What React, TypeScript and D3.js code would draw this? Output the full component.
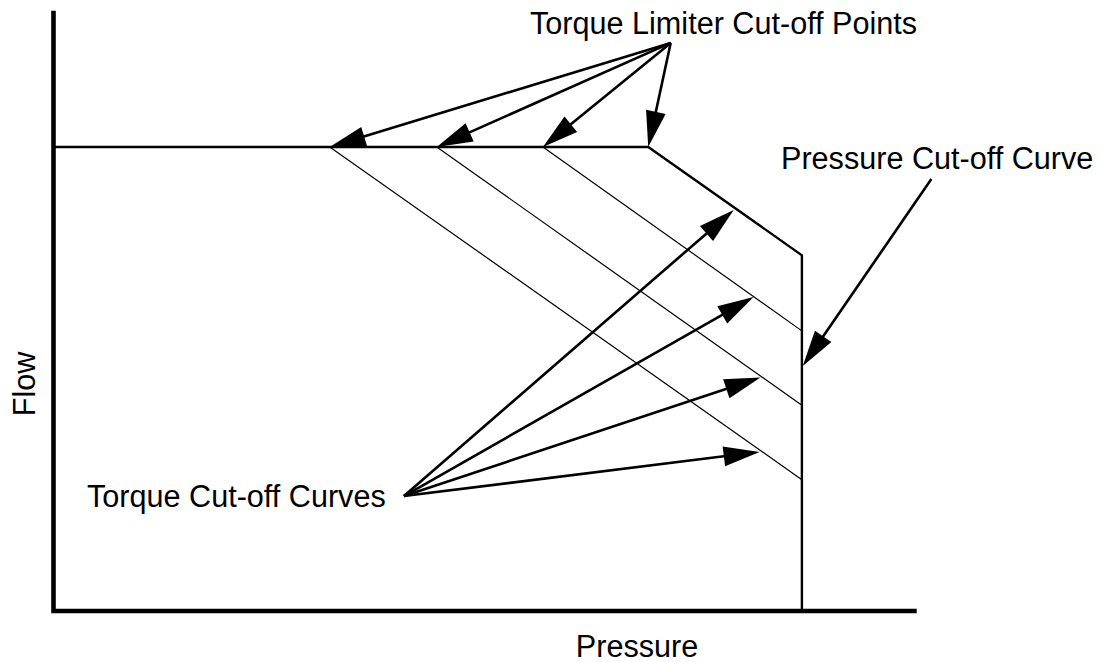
import React from "react";
import * as d3 from "d3";

const W = 1103;
const H = 662;

// Data (arbitrary pressure / flow units, 0..100)
const maxFlow = 76.7;
const pressureCutoff = 86.7;
const limiterPoints = [32.0, 44.4, 56.7, 68.9];
const curveEndFlows = [21.7, 34.0, 46.3, 58.8];

const limiterLabelOrigin: [number, number] = [71.5, 93.9];
const torqueLabelOrigin: [number, number] = [40.6, 19.0];
const torqueArrowTipsX = [78.8, 81.1, 81.9, 81.8];
const torqueArrowTipsY = [66.3, 51.9, 38.6, 26.3];
const pressureArrowFrom: [number, number] = [101.7, 71.4];
const pressureArrowTo: [number, number] = [86.8, 40.5];

const labels = {
  limiter: "Torque Limiter Cut-off Points",
  pressure: "Pressure Cut-off Curve",
  torque: "Torque Cut-off Curves",
  xTitle: "Pressure",
  yTitle: "Flow",
};

const x = d3.scaleLinear().domain([0, 100]).range([53.5, 916.7]);
const y = d3.scaleLinear().domain([0, 100]).range([611, 6]);

const FONT = "'Liberation Sans', Arial, Helvetica, sans-serif";

function Arrow({ from, to }: { from: [number, number]; to: [number, number] }) {
  const x1 = x(from[0]);
  const y1 = y(from[1]);
  const x2 = x(to[0]);
  const y2 = y(to[1]);
  const dx = x2 - x1;
  const dy = y2 - y1;
  const len = Math.hypot(dx, dy);
  const ux = dx / len;
  const uy = dy / len;
  const L = 36;
  const hw = 10;
  const bx = x2 - ux * L;
  const by = y2 - uy * L;
  const p1 = [bx - uy * hw, by + ux * hw];
  const p2 = [bx + uy * hw, by - ux * hw];
  return (
    <g>
      <line x1={x1} y1={y1} x2={bx + ux * 2} y2={by + uy * 2} stroke="#000" strokeWidth={2.6} />
      <polygon points={`${x2},${y2} ${p1[0]},${p1[1]} ${p2[0]},${p2[1]}`} fill="#000" />
    </g>
  );
}

export default function App() {
  const line = d3
    .line<[number, number]>()
    .x((d) => x(d[0]))
    .y((d) => y(d[1]));

  const cornerFlow = curveEndFlows[curveEndFlows.length - 1];
  const envelope: [number, number][] = [
    [0, maxFlow],
    [limiterPoints[limiterPoints.length - 1], maxFlow],
    [pressureCutoff, cornerFlow],
    [pressureCutoff, 0],
  ];

  const axes: [number, number][] = [
    [0, 99.2],
    [0, 0],
    [100, 0],
  ];

  return (
    <svg
      width={W}
      height={H}
      style={{ position: "absolute", left: 0, top: 0, background: "#fff" }}
    >
      <rect width={W} height={H} fill="#fff" />
      {/* thin torque cut-off curves */}
      {limiterPoints.slice(0, 3).map((p, i) => (
        <path
          key={i}
          d={line([
            [p, maxFlow],
            [pressureCutoff, curveEndFlows[i]],
          ]) as string}
          stroke="#000"
          strokeWidth={1.2}
          fill="none"
        />
      ))}
      {/* envelope */}
      <path d={line(envelope) as string} stroke="#000" strokeWidth={2.4} fill="none" strokeLinejoin="miter" />
      {/* axes */}
      <path
        d={line(axes) as string}
        stroke="#000"
        strokeWidth={4.6}
        fill="none"
        strokeLinejoin="miter"
      />
      {/* limiter arrows */}
      {limiterPoints.map((p, i) => (
        <Arrow key={"l" + i} from={limiterLabelOrigin} to={[p, maxFlow]} />
      ))}
      {/* torque cut-off arrows */}
      {torqueArrowTipsX.map((tx, i) => (
        <Arrow key={"t" + i} from={torqueLabelOrigin} to={[tx, torqueArrowTipsY[i]]} />
      ))}
      <Arrow from={pressureArrowFrom} to={pressureArrowTo} />
      {/* labels */}
      <g fontFamily={FONT} fontSize={30.6} fill="#000">
        <text x={530} y={34}>{labels.limiter}</text>
        <text x={781} y={169}>{labels.pressure}</text>
        <text x={87} y={507}>{labels.torque}</text>
        <text x={637} y={657} textAnchor="middle">{labels.xTitle}</text>
        <text transform="translate(34.5,384) rotate(-90)" textAnchor="middle">{labels.yTitle}</text>
      </g>
    </svg>
  );
}
